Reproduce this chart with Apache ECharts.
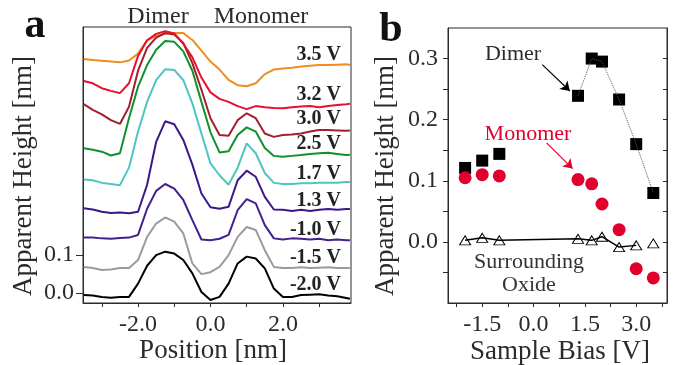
<!DOCTYPE html>
<html>
<head>
<meta charset="utf-8">
<script src="https://cdn.jsdelivr.net/npm/echarts@6/dist/echarts.min.js"></script>
<style>
html, body { margin: 0; padding: 0; background: #fff; }
#main { width: 674px; height: 365px; }
</style>
</head>
<body>
<div id="main"></div>
<script>
// panel a: line profiles (position in nm, apparent height in nm, already offset)
var posNm = [-3.5, -3.25, -3.0, -2.75, -2.5, -2.25, -2.0, -1.75, -1.5, -1.25, -1.0, -0.75, -0.5, -0.25, 0,
  0.25, 0.5, 0.75, 1.0, 1.25, 1.5, 1.75, 2.0, 2.25, 2.5, 2.75, 3.0, 3.25, 3.5, 3.75, 3.85];

var prof35 = [0.616, 0.613, 0.611, 0.609, 0.607, 0.612, 0.630, 0.665, 0.677, 0.682, 0.684, 0.684, 0.666, 0.638, 0.609,
  0.588, 0.561, 0.547, 0.544, 0.552, 0.576, 0.588, 0.591, 0.593, 0.596, 0.598, 0.600, 0.600, 0.601, 0.602, 0.600];
var prof32 = [0.558, 0.552, 0.539, 0.532, 0.526, 0.552, 0.624, 0.665, 0.682, 0.689, 0.683, 0.656, 0.620, 0.567, 0.528,
  0.511, 0.503, 0.492, 0.484, 0.492, 0.489, 0.487, 0.486, 0.489, 0.491, 0.492, 0.489, 0.492, 0.495, 0.497, 0.498];
var prof30 = [0.497, 0.482, 0.470, 0.455, 0.445, 0.490, 0.585, 0.645, 0.672, 0.684, 0.680, 0.658, 0.605, 0.535, 0.460,
  0.416, 0.414, 0.455, 0.473, 0.460, 0.420, 0.411, 0.416, 0.417, 0.420, 0.425, 0.429, 0.429, 0.428, 0.427, 0.428];
var prof25 = [0.381, 0.377, 0.372, 0.362, 0.368, 0.460, 0.543, 0.600, 0.640, 0.663, 0.661, 0.636, 0.585, 0.503, 0.423,
  0.370, 0.373, 0.416, 0.436, 0.425, 0.382, 0.361, 0.359, 0.361, 0.363, 0.366, 0.368, 0.369, 0.366, 0.363, 0.364];
var prof17 = [0.299, 0.297, 0.290, 0.287, 0.284, 0.330, 0.425, 0.503, 0.560, 0.589, 0.587, 0.560, 0.499, 0.420, 0.341,
  0.310, 0.285, 0.330, 0.394, 0.368, 0.316, 0.290, 0.287, 0.287, 0.289, 0.289, 0.290, 0.290, 0.290, 0.292, 0.292];
var prof13 = [0.223, 0.220, 0.214, 0.211, 0.212, 0.210, 0.214, 0.285, 0.398, 0.452, 0.444, 0.403, 0.338, 0.262, 0.226,
  0.222, 0.227, 0.297, 0.322, 0.306, 0.253, 0.220, 0.219, 0.216, 0.219, 0.216, 0.219, 0.221, 0.219, 0.221, 0.221];
var profM10 = [0.146, 0.146, 0.144, 0.143, 0.145, 0.146, 0.153, 0.222, 0.269, 0.287, 0.275, 0.245, 0.192, 0.141, 0.139,
  0.143, 0.153, 0.218, 0.247, 0.236, 0.179, 0.144, 0.141, 0.144, 0.143, 0.141, 0.143, 0.139, 0.141, 0.139, 0.139];
var profM15 = [0.069, 0.066, 0.061, 0.062, 0.066, 0.066, 0.087, 0.148, 0.183, 0.199, 0.188, 0.157, 0.078, 0.050, 0.055,
  0.069, 0.100, 0.148, 0.174, 0.166, 0.113, 0.069, 0.066, 0.066, 0.068, 0.066, 0.067, 0.068, 0.066, 0.066, 0.066];
var profM20 = [-0.005, -0.006, -0.010, -0.012, -0.010, -0.010, 0.025, 0.072, 0.100, 0.109, 0.104, 0.087, 0.052, 0.003, -0.018,
  -0.010, 0.025, 0.078, 0.096, 0.091, 0.065, 0.012, -0.010, -0.010, -0.005, -0.004, -0.003, -0.006, -0.008, -0.013, -0.015];

// panel b: apparent height vs sample bias
var biasV = [-2.0, -1.5, -1.0, 1.3, 1.7, 2.0, 2.5, 3.0, 3.5];
var dimerH = [0.121, 0.133, 0.144, 0.239, 0.300, 0.295, 0.233, 0.160, 0.080];
var monomerH = [0.105, 0.110, 0.108, 0.102, 0.095, 0.062, 0.020, -0.044, -0.059];
var oxideH = [0.0025, 0.0066, 0.0025, 0.005, 0.0025, 0.0085, -0.0085, -0.0057, -0.0025];

var serif = '"Liberation Serif", "Times New Roman", serif';
var ink = '#2b2b2b';

var profiles = [
  { h: prof35, color: '#f28c1e', label: '3.5 V', ly: 55 },
  { h: prof30, color: '#a31f2f', label: '3.0 V', ly: 119 },
  { h: prof25, color: '#11902e', label: '2.5 V', ly: 144 },
  { h: prof32, color: '#e8102e', label: '3.2 V', ly: 95 },
  { h: prof17, color: '#50c4c3', label: '1.7 V', ly: 174 },
  { h: prof13, color: '#3b1889', label: '1.3 V', ly: 201 },
  { h: profM10, color: '#43208f', label: '-1.0 V', ly: 230 },
  { h: profM15, color: '#9b9b9b', label: '-1.5 V', ly: 258 },
  { h: profM20, color: '#000000', label: '-2.0 V', ly: 285 }
];

function pairs(xs, ys) {
  return xs.map(function (x, i) { return [x, ys[i]]; });
}

function axisCommon(tickLen, ticks, labels, margin) {
  return {
    axisLine: { show: true, onZero: false, lineStyle: { color: ink, width: 1 } },
    axisTick: { show: true, length: tickLen, customValues: ticks, lineStyle: { color: ink, width: 1 } },
    axisLabel: {
      show: labels.length > 0, customValues: labels, margin: margin,
      fontFamily: serif, fontSize: 24, color: ink,
      formatter: function (v) { return Number(v).toFixed(1); }
    },
    splitLine: { show: false }
  };
}

var chart = echarts.init(document.getElementById('main'));

var series = profiles.map(function (p) {
  return {
    type: 'line', xAxisIndex: 0, yAxisIndex: 0,
    data: pairs(posNm, p.h),
    showSymbol: false, symbol: 'none',
    lineStyle: { color: p.color, width: 2 },
    silent: true
  };
});

series.push({
  type: 'line', xAxisIndex: 1, yAxisIndex: 1,
  data: pairs(biasV.slice(3), dimerH.slice(3)),
  symbol: 'none',
  lineStyle: { color: '#555', width: 1, type: 'dotted' },
  silent: true
});
series.push({
  type: 'scatter', xAxisIndex: 1, yAxisIndex: 1,
  data: pairs(biasV, dimerH),
  symbol: 'rect', symbolSize: 12,
  itemStyle: { color: '#000', opacity: 1 },
  markLine: {
    silent: true, symbol: ['none', 'arrow'], symbolSize: 9,
    label: { show: false },
    lineStyle: { color: '#000', width: 1.2, type: 'solid' },
    data: [[{ coord: [0.256, 0.290] }, { coord: [1.06, 0.247] }]]
  }
});
series.push({
  type: 'line', xAxisIndex: 1, yAxisIndex: 1,
  data: pairs(biasV.slice(0, 8), oxideH.slice(0, 8)),
  symbol: 'none',
  lineStyle: { color: '#000', width: 1.5 },
  silent: true
});
series.push({
  type: 'scatter', xAxisIndex: 1, yAxisIndex: 1,
  data: pairs(biasV, oxideH),
  symbol: 'triangle', symbolSize: [11, 9],
  itemStyle: { color: '#fff', borderColor: '#000', borderWidth: 1, opacity: 1 }
});
series.push({
  type: 'scatter', xAxisIndex: 1, yAxisIndex: 1,
  data: pairs(biasV, monomerH),
  symbol: 'circle', symbolSize: 13,
  itemStyle: { color: '#e1002d', opacity: 1 },
  markLine: {
    silent: true, symbol: ['none', 'arrow'], symbolSize: 9,
    label: { show: false },
    lineStyle: { color: '#e1002d', width: 1.2, type: 'solid' },
    data: [[{ coord: [0.382, 0.162] }, { coord: [1.14, 0.120] }]]
  }
});

function txt(s, x, y, font, fill, align, rot) {
  return {
    type: 'text', x: x, y: y, rotation: rot || 0, silent: true,
    style: {
      text: s, font: font, fill: fill || ink,
      align: align || 'center', textAlign: align || 'center',
      verticalAlign: 'middle', textVerticalAlign: 'middle'
    }
  };
}

var graphics = [
  txt('a', 35, 26, 'bold 42px ' + serif, '#111'),
  txt('b', 391, 30, 'bold 42px ' + serif, '#111'),
  txt('Dimer', 158, 17, '24px ' + serif),
  txt('Monomer', 261, 17, '24px ' + serif),
  txt('Position [nm]', 213, 351, '27px ' + serif),
  txt('Sample Bias [V]', 560, 352, '27px ' + serif),
  txt('Apparent Height [nm]', 24, 176, '27px ' + serif, ink, 'center', Math.PI / 2),
  txt('Apparent Height [nm]', 386, 176, '27px ' + serif, ink, 'center', Math.PI / 2),
  txt('Dimer', 513, 54, '22px ' + serif),
  txt('Monomer', 528, 134, '22px ' + serif, '#e1002d'),
  txt('Surrounding', 529, 262, '22px ' + serif, '#333'),
  txt('Oxide', 529, 285, '22px ' + serif, '#333')
];
profiles.forEach(function (p) {
  graphics.push(txt(p.label, 341, p.ly, 'bold 20px ' + serif, '#222', 'right'));
});

var option = {
  animation: false,
  backgroundColor: '#fff',
  grid: [
    { left: 83, top: 27, width: 268, height: 276, show: true, borderColor: ink, borderWidth: 1, backgroundColor: 'transparent' },
    { left: 448, top: 28, width: 219, height: 275, show: true, borderColor: ink, borderWidth: 1, backgroundColor: 'transparent' }
  ],
  xAxis: [
    Object.assign({ type: 'value', gridIndex: 0, min: -3.52, max: 3.88 },
      axisCommon(4, [-3, -2, -1, 0, 1, 2, 3], [-2, 0, 2], 10)),
    Object.assign({ type: 'value', gridIndex: 1, min: -2.5, max: 3.9 },
      axisCommon(4, [-2.25, -1.5, -0.75, 0, 0.75, 1.5, 2.25, 3.0, 3.75], [-1.5, 0, 1.5, 3.0], 10))
  ],
  yAxis: [
    Object.assign({ type: 'value', gridIndex: 0, min: -0.026, max: 0.70 },
      axisCommon(7, [0, 0.1], [0, 0.1], 9)),
    Object.assign({ type: 'value', gridIndex: 1, min: -0.1, max: 0.35 },
      axisCommon(5, [-0.05, 0, 0.05, 0.1, 0.15, 0.2, 0.25, 0.3], [0, 0.1, 0.2, 0.3], 10)),
    Object.assign({ type: 'value', gridIndex: 1, min: -0.1, max: 0.35, position: 'right' },
      axisCommon(4, [-0.05, 0, 0.05, 0.1, 0.15, 0.2, 0.25, 0.3], [], 10),
      { axisTick: { show: true, inside: true, length: 4, customValues: [-0.05, 0, 0.05, 0.1, 0.15, 0.2, 0.25, 0.3], lineStyle: { color: ink } } })
  ],
  series: series,
  graphic: graphics
};

chart.setOption(option);
</script>
</body>
</html>
